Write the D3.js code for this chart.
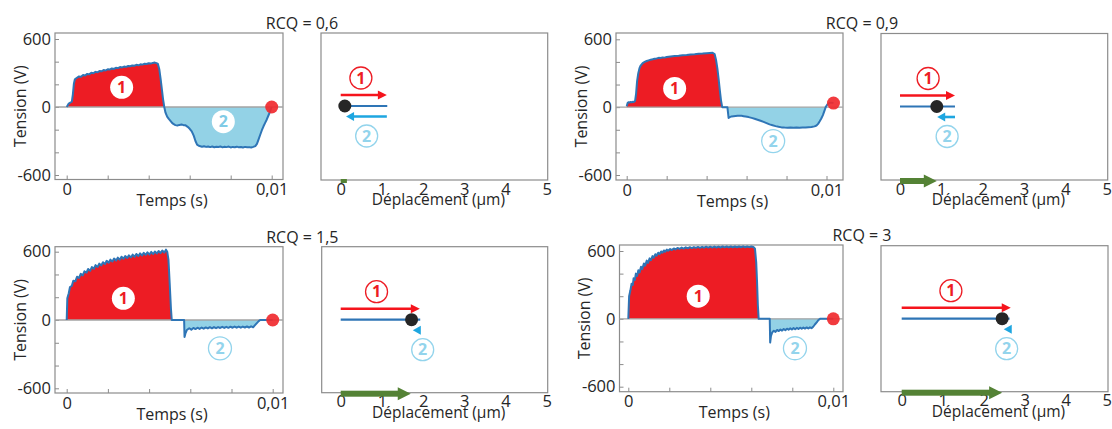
<!DOCTYPE html>
<html><head><meta charset="utf-8">
<script src="https://cdn.jsdelivr.net/npm/d3@7"></script>
<style>body{margin:0;background:#fff}svg{display:block;font-family:"Open Sans",sans-serif}</style>
</head><body><svg id="c" width="1112" height="429"></svg>
<script>
// ---------- DATA ----------
const rcqLabels = ["RCQ = 0,6", "RCQ = 0,9", "RCQ = 1,5", "RCQ = 3"];
const voltTickValues = [-600, -400, -200, 0, 200, 400, 600];
const voltTickLabels = {"-600": "-600", "0": "0", "600": "600"};
const timeTickValues = [0, 2, 4, 6, 8, 10]; // ms
const timeTickLabels = {"0": "0", "10": "0,01"};
const dispTicks = [0, 1, 2, 3, 4, 5];

// time in ms, voltage in V
const t06 = [0,0.1,0.2,0.25,0.3,0.35,0.4,0.5,0.6,0.7,0.8,0.9,1.0,1.1,1.2,1.3,1.4,1.5,1.6,1.7,1.8,1.9,2.0,2.1,2.2,2.3,2.4,2.5,2.6,2.7,2.8,2.9,3.0,3.1,3.2,3.3,3.4,3.5,3.6,3.7,3.8,3.9,4.0,4.1,4.2,4.3,4.38,4.45,4.52,4.58,4.64,4.7,4.76,
 4.82,4.9,4.98,5.06,5.14,5.22,5.3,5.4,5.5,5.6,5.7,5.8,5.9,6.0,6.1,6.2,6.28,6.36,6.44,6.52,6.6,6.7,6.8,6.9,7.0,7.1,7.2,7.3,7.4,7.5,7.6,7.7,7.8,7.9,8.0,8.1,8.2,8.3,8.4,8.5,8.6,8.7,8.8,8.9,9.0,9.1,9.2,9.28,9.36,9.44,9.52,9.6,9.68,9.76,9.84,9.92,10.0];
const v06 = [0,30,42,48,110,205,245,258,270,266,282,278,292,288,302,298,310,306,318,315,326,322,333,330,340,336,346,343,352,349,357,354,362,360,367,364,372,368,377,374,382,379,386,383,389,392,387,380,330,250,160,70,0,
 -50,-85,-105,-122,-140,-152,-160,-163,-158,-155,-160,-162,-175,-192,-215,-255,-300,-332,-342,-346,-350,-346,-352,-348,-354,-349,-355,-350,-353,-348,-356,-351,-354,-349,-357,-352,-355,-350,-356,-353,-358,-352,-356,-354,-358,-352,-345,-325,-285,-245,-205,-170,-140,-110,-75,-40,0];

const t09 = [0,0.05,0.1,0.15,0.2,0.25,0.3,0.35,0.42,0.47,0.52,0.58,0.64,0.7,0.8,0.9,1.0,1.1,1.2,1.3,1.4,1.5,1.6,1.7,1.8,1.9,2.0,2.2,2.4,2.6,2.8,3.0,3.2,3.4,3.6,3.8,4.0,4.15,4.3,4.4,4.47,4.54,4.6,4.66,4.72,4.78,5.04,5.1,5.16,5.25,5.35,5.45,5.55,5.65,5.75,5.85,5.95,6.1,6.25,6.4,6.55,6.7,6.85,7.0,7.15,7.3,7.45,7.6,7.75,7.9,8.05,8.2,8.35,8.5,8.65,8.8,8.95,9.1,9.25,9.4,9.5,9.58,9.66,9.74,9.82,9.9,9.96,10.05,10.15,10.25,10.35];
const v09 = [8,38,44,42,46,43,47,45,55,120,230,300,345,368,390,400,408,414,420,423,428,431,436,435,440,438,444,448,452,455,459,462,466,468,472,474,477,479,481,470,420,340,250,150,60,0,0,-95,-88,-82,-80,-78,-76,-75,-77,-80,-83,-88,-95,-102,-111,-120,-130,-141,-152,-160,-168,-174,-179,-181,-182,-181,-183,-180,-182,-179,-181,-178,-176,-170,-162,-148,-125,-100,-70,-30,0,25,38,40,36];

const t15 = [0,0.03,0.1,0.16,0.25,0.32,0.42,0.5,0.6,0.68,0.78,0.86,0.96,1.04,1.14,1.22,1.32,1.4,1.5,1.58,1.68,1.76,1.86,1.94,2.04,2.12,2.22,2.3,2.4,2.48,2.58,2.66,2.76,2.84,2.94,3.02,3.12,3.2,3.3,3.38,3.48,3.56,3.66,3.74,3.84,3.92,4.02,4.1,4.2,4.28,4.38,4.46,4.56,4.64,4.74,4.82,4.88,4.94,5.0,5.06,5.1,5.7,5.72,5.76,5.83,5.95,6.05,6.15,6.25,6.35,6.45,6.55,6.65,6.75,6.85,6.95,7.05,7.15,7.25,7.35,7.45,7.55,7.65,7.75,7.85,7.95,8.05,8.15,8.25,8.35,8.45,8.55,8.65,8.75,8.85,8.95,9.05,9.12,9.22,9.32,9.39,10.0];
const v15 = [0,190,235,290,300,345,340,380,370,405,392,428,415,448,432,465,450,482,466,495,480,508,492,520,503,530,514,540,522,548,530,556,538,562,545,568,550,574,556,580,562,585,567,590,572,594,576,598,580,602,584,606,588,610,592,618,600,530,320,100,0,0,-150,-120,-88,-72,-85,-70,-80,-68,-78,-66,-76,-65,-74,-63,-73,-62,-72,-62,-70,-60,-70,-60,-69,-59,-68,-58,-68,-58,-67,-58,-66,-57,-66,-56,-64,-50,-30,-10,0,0];

const t30 = [0,0.04,0.1,0.16,0.22,0.26,0.32,0.37,0.43,0.49,0.55,0.62,0.68,0.76,0.82,0.9,0.96,1.04,1.1,1.18,1.24,1.32,1.38,1.46,1.52,1.6,1.66,1.74,1.8,1.88,1.94,2.04,2.12,2.22,2.3,2.4,2.5,2.6,2.7,2.8,2.9,3.0,3.1,3.2,3.3,3.4,3.5,3.6,3.7,3.8,3.9,4.0,4.1,4.2,4.3,4.4,4.5,4.6,4.7,4.8,4.9,5.0,5.1,5.2,5.3,5.4,5.5,5.6,5.7,5.8,5.9,6.0,6.1,6.18,6.24,6.28,6.32,6.36,6.9,6.92,6.96,7.02,7.1,7.18,7.26,7.34,7.42,7.5,7.58,7.66,7.74,7.82,7.9,7.98,8.06,8.14,8.22,8.3,8.38,8.46,8.54,8.62,8.7,8.78,8.86,8.94,9.02,9.1,9.2,9.28,9.35,10.0];
const v30 = [0,200,250,310,300,360,345,400,380,430,410,460,440,490,470,515,495,535,518,555,540,572,558,585,572,596,584,605,594,612,602,618,608,623,614,627,618,630,621,632,624,634,626,635,627,636,628,637,629,638,630,638,630,639,631,639,631,640,632,640,632,640,632,640,633,640,633,641,633,640,634,640,636,620,500,330,120,0,0,-210,-150,-120,-105,-115,-98,-108,-94,-104,-90,-100,-87,-96,-84,-94,-82,-92,-80,-90,-78,-88,-77,-86,-76,-85,-75,-82,-70,-50,-28,-10,0,0];

const phaseSplitMs = [4.76, 4.9, 5.3, 6.5];
const endPointMs = [10, 10.35, 10, 10];
const endPointV = [0, 36, 0, 0];
const label1T = [2.68, 2.4, 2.75, 3.41], label1V = [174, 165, 190, 200];
const label2T = [7.64, 7.33, 7.44, 8.13], label2V = [-130, -300, -249, -260];

// displacement (µm)
const maxDisp = [1.12, 1.33, 1.92, 2.66];
const blueLineEnd = [1.13, 1.33, 1.93, 2.63];
const finalDisp = [0.1, 0.89, 1.72, 2.45];
const returnArrowEnd = [0.13, 0.9, 1.75, 2.5];
const netDisp = [0.15, 0.89, 1.7, 2.45];
const disp1LabelX = [0.49, 0.68, 0.87, 1.2];
const disp2LabelX = [0.63, 1.14, 1.99, 2.56];

const timeSeries = [[t06, v06], [t09, v09], [t15, v15], [t30, v30]];

// ---------- LAYOUT ----------
const C = {red: "#ed1c24", arrowRed: "#f5141c", fill2: "#93d2e6", curve: "#2e75b6", cyan: "#1ea6e0",
  circ2: "#93d4ec", circ2in: "#7fcbe6", green: "#548235", frame: "#8c8c8c", zero: "#a3a3a3", text: "#262626"};
const voltLayout = [
  {l: 55, r: 283, t: 33, b: 179.5, x0: 66.7, x1: 271.7, y6: 39, yn6: 175},
  {l: 616, r: 843, t: 33, b: 180, x0: 626.7, x1: 826.5, y6: 39.3, yn6: 175},
  {l: 55, r: 283, t: 246.7, b: 393, x0: 66.7, x1: 272.7, y6: 251.7, yn6: 388.3},
  {l: 619.5, r: 843, t: 245, b: 391.7, x0: 628.3, x1: 833.3, y6: 251, yn6: 386.7}];
const dispLayout = [
  {l: 321, r: 547.7, t: 33, b: 180, x0: 340.7, x5: 546.7},
  {l: 881, r: 1107.7, t: 33.5, b: 180, x0: 900, x5: 1106.7},
  {l: 321.7, r: 547.7, t: 246.7, b: 392.7, x0: 340.7, x5: 546.7},
  {l: 881, r: 1108, t: 245.7, b: 391.7, x0: 901.7, x5: 1106.7}];

const svg = d3.select("#c");

function circleLabel(g, cx, cy, txt, fill, stroke, color, r) {
  g.append("circle").attr("cx", cx).attr("cy", cy).attr("r", r)
    .attr("fill", fill).attr("stroke", stroke).attr("stroke-width", stroke === "none" ? 0 : 1.3);
  g.append("text").attr("x", cx).attr("y", cy).attr("dy", "0.36em").attr("text-anchor", "middle")
    .attr("font-size", 16).attr("font-weight", 700).attr("fill", color).text(txt);
}

for (let i = 0; i < 4; i++) {
  const L = voltLayout[i];
  const g = svg.append("g");
  const x = d3.scaleLinear().domain([0, 10]).range([L.x0, L.x1]);
  const y = d3.scaleLinear().domain([-600, 600]).range([L.yn6, L.y6]);
  const [ts, vs] = timeSeries[i];
  const pts = ts.map((t, k) => ({t, v: vs[k]}));
  const split = phaseSplitMs[i];

  g.append("rect").attr("x", L.l).attr("y", L.t).attr("width", L.r - L.l).attr("height", L.b - L.t)
    .attr("fill", "none").attr("stroke", C.frame).attr("stroke-width", 1.2);

  const ya = g.append("g").attr("transform", `translate(${L.l},0)`)
    .call(d3.axisLeft(y).tickValues(voltTickValues).tickSizeInner(-4).tickSizeOuter(0).tickPadding(4)
      .tickFormat(d => voltTickLabels[String(d)] || ""));
  ya.select(".domain").remove();
  ya.selectAll("line").attr("stroke", C.frame);
  ya.selectAll("text").attr("font-size", 16.5).attr("fill", C.text).attr("font-family", "Open Sans");

  const xa = g.append("g").attr("transform", `translate(0,${L.b})`)
    .call(d3.axisBottom(x).tickValues(timeTickValues).tickSizeInner(-4).tickSizeOuter(0).tickPadding(4)
      .tickFormat(d => timeTickLabels[String(d)] || ""));
  xa.select(".domain").remove();
  xa.selectAll("line").attr("stroke", C.frame);
  xa.selectAll("text").attr("font-size", 16.5).attr("fill", C.text).attr("font-family", "Open Sans");

  g.append("text").attr("x", (L.l + L.r) / 2 + 3).attr("y", L.b + 26.5).attr("text-anchor", "middle")
    .attr("font-size", 16).attr("fill", C.text).text("Temps (s)");
  g.append("text").attr("transform", `translate(${L.l - 35},${(L.t + L.b) / 2}) rotate(-90)`)
    .attr("dy", "0.35em").attr("text-anchor", "middle").attr("font-size", 16).attr("fill", C.text).text("Tension (V)");

  const p1 = pts.filter(p => p.t <= split);
  const p2 = pts.filter(p => p.t >= split);
  g.append("path").datum(p1).attr("fill", C.red)
    .attr("d", d3.area().x(p => x(p.t)).y0(y(0)).y1(p => y(Math.max(p.v, 0))));
  g.append("path").datum(p2).attr("fill", C.fill2)
    .attr("d", d3.area().x(p => x(p.t)).y0(y(0)).y1(p => y(Math.min(p.v, 0))));

  g.append("line").attr("x1", L.l).attr("x2", L.r).attr("y1", y(0)).attr("y2", y(0))
    .attr("stroke", C.zero).attr("stroke-width", 1.3);

  g.append("path").datum(pts).attr("fill", "none").attr("stroke", C.curve).attr("stroke-width", 2)
    .attr("stroke-linejoin", "round").attr("d", d3.line().x(p => x(p.t)).y(p => y(p.v)));

  g.append("circle").attr("cx", x(endPointMs[i])).attr("cy", y(endPointV[i])).attr("r", 6.5)
    .attr("fill", "#f02a2f").attr("opacity", 0.92);

  circleLabel(g, x(label1T[i]), y(label1V[i]), "1", "#fff", "none", C.red, 11.5);
  if (i === 0) circleLabel(g, x(label2T[i]), y(label2V[i]), "2", "#fff", "none", C.circ2in, 11.5);
  else circleLabel(g, x(label2T[i]), y(label2V[i]), "2", "#fff", C.circ2, C.circ2, 11.5);

  const D = dispLayout[i];
  svg.append("text").attr("x", (L.r + D.l) / 2).attr("y", L.t - 4).attr("text-anchor", "middle")
    .attr("font-size", 16).attr("fill", C.text).text(rcqLabels[i]);
}

for (let i = 0; i < 4; i++) {
  const D = dispLayout[i];
  const g = svg.append("g");
  const x = d3.scaleLinear().domain([0, 5]).range([D.x0, D.x5]);
  g.append("rect").attr("x", D.l).attr("y", D.t).attr("width", D.r - D.l).attr("height", D.b - D.t)
    .attr("fill", "none").attr("stroke", C.frame).attr("stroke-width", 1.2);
  const xa = g.append("g").attr("transform", `translate(0,${D.b})`)
    .call(d3.axisBottom(x).tickValues(dispTicks).tickSize(0).tickPadding(3).tickFormat(d => String(d)));
  xa.select(".domain").remove();
  xa.selectAll("text").attr("font-size", 16.5).attr("fill", C.text).attr("font-family", "Open Sans");
  g.append("text").attr("x", (D.l + D.r) / 2 + 4).attr("y", D.b + 25).attr("text-anchor", "middle")
    .attr("font-size", 15.5).attr("fill", C.text).text("Déplacement (µm)");

  const yRed = D.t + 62, yBlue = D.t + 73, yCyan = D.t + 83.5;
  const xr0 = x(0), xr1 = x(maxDisp[i]);
  g.append("line").attr("x1", xr0).attr("x2", xr1 - 7).attr("y1", yRed).attr("y2", yRed)
    .attr("stroke", C.arrowRed).attr("stroke-width", 2.6);
  g.append("path").attr("d", `M${xr1},${yRed}L${xr1 - 9},${yRed - 4.5}L${xr1 - 9},${yRed + 4.5}Z`).attr("fill", C.arrowRed);
  g.append("line").attr("x1", x(0)).attr("x2", x(blueLineEnd[i])).attr("y1", yBlue).attr("y2", yBlue)
    .attr("stroke", C.curve).attr("stroke-width", 2.2);
  const xc0 = x(maxDisp[i]), xc1 = x(returnArrowEnd[i]);
  if (xc0 - xc1 > 10) {
    g.append("line").attr("x1", xc0).attr("x2", xc1 + 7).attr("y1", yCyan).attr("y2", yCyan)
      .attr("stroke", C.cyan).attr("stroke-width", 2.6);
  }
  const tip = Math.min(xc1, xc0 - 7);
  g.append("path").attr("d", `M${tip},${yCyan}L${tip + 8},${yCyan - 4.5}L${tip + 8},${yCyan + 4.5}Z`).attr("fill", C.cyan);
  g.append("circle").attr("cx", x(finalDisp[i])).attr("cy", yBlue).attr("r", 6.5).attr("fill", "#262626");
  circleLabel(g, x(disp1LabelX[i]), D.t + 45, "1", "#fff", C.red, C.red, 11);
  circleLabel(g, x(disp2LabelX[i]), D.t + 103, "2", "#fff", C.circ2, C.circ2, 11);
  const gy = D.b + 1, gx0 = x(0), gx1 = x(netDisp[i]);
  if (gx1 - gx0 < 16) {
    g.append("rect").attr("x", gx0).attr("y", gy - 2).attr("width", gx1 - gx0).attr("height", 4).attr("fill", C.green);
  } else {
    g.append("rect").attr("x", gx0).attr("y", gy - 3).attr("width", gx1 - gx0 - 12).attr("height", 6).attr("fill", C.green);
    g.append("path").attr("d", `M${gx1},${gy}L${gx1 - 13},${gy - 6.5}L${gx1 - 13},${gy + 6.5}Z`).attr("fill", C.green);
  }
}
</script></body></html>
